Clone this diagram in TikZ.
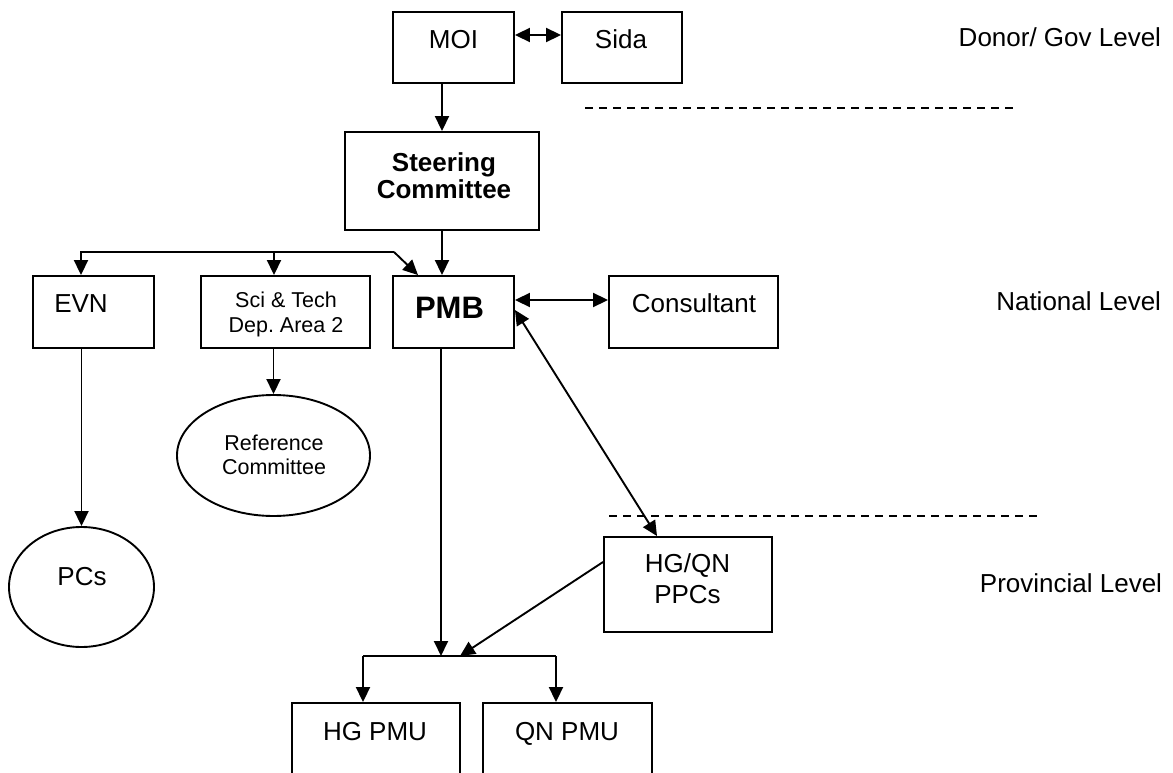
\documentclass[tikz,border=0pt]{standalone}
\usepackage{fontspec}
\setmainfont{Liberation Sans}
\usetikzlibrary{arrows.meta,shapes.geometric}
\frenchspacing
\begin{document}
\begin{tikzpicture}[x=1pt,y=-1pt,
  line width=1.9pt,
  box/.style={draw, rectangle, inner sep=0pt},
  oval/.style={draw, ellipse, inner sep=0pt},
  txt/.style={anchor=base, inner sep=0pt, align=center, font=\fontsize{26}{31}\selectfont},
  small/.style={anchor=base, inner sep=0pt, align=center, font=\fontsize{21.5}{24.5}\selectfont},
  lvl/.style={anchor=base east, inner sep=0pt, font=\fontsize{26}{31}\selectfont},
  arr/.style={-{Triangle[length=15pt,width=14pt]}},
  darr/.style={{Triangle[length=15pt,width=14pt]}-{Triangle[length=15pt,width=14pt]}},
  dline/.style={dash pattern=on 8pt off 6pt, line width=1.6pt}]
\clip (0,0) rectangle (1173,773);
\fill[white] (0,0) rectangle (1173,773);

% boxes
\node[box, minimum width=121pt, minimum height=71pt] (MOI) at (453.5,47.5) {};
\node[box, minimum width=120pt, minimum height=71pt] (Sida) at (622,47.5) {};
\node[box, minimum width=194pt, minimum height=98pt] (SC) at (442,181) {};
\node[box, minimum width=121pt, minimum height=72pt] (EVN) at (93.5,312) {};
\node[box, minimum width=169pt, minimum height=72pt] (Sci) at (285.5,312) {};
\node[box, minimum width=121pt, minimum height=72pt] (PMB) at (453.5,312) {};
\node[box, minimum width=169pt, minimum height=72pt] (Cons) at (693.5,312) {};
\node[box, minimum width=168pt, minimum height=95pt] (HGQN) at (688,584.5) {};
\node[box, minimum width=168pt, minimum height=98pt] (HGPMU) at (376,752) {};
\node[box, minimum width=169pt, minimum height=98pt] (QNPMU) at (567.5,752) {};
\node[oval, minimum width=193pt, minimum height=121pt] (Ref) at (273.5,455.5) {};
\node[oval, minimum width=145pt, minimum height=120pt] (PCs) at (81.5,587) {};

% texts
\node[txt] (tMOI) at (453.5,49) {MOI};
\node[txt] (tSida) at (621,49) {Sida};
\node[txt, font=\fontsize{26}{26.6}\selectfont\bfseries] (tSC) at (444,198) {Steering\\Committee};
\node[txt] (tEVN) at (81,312) {EVN};
\node[small] (tSci) at (286,332) {Sci \& Tech\\Dep. Area 2};
\node[txt, font=\fontsize{31}{36}\selectfont\bfseries] (tPMB) at (449.5,318) {PMB};
\node[txt] (tCons) at (694,312) {Consultant};
\node[small, font=\fontsize{21.5}{24}\selectfont] (tRef) at (274,474) {Reference\\Committee};
\node[txt] (tPCs) at (82,585) {PCs};
\node[txt, font=\fontsize{26}{31}\selectfont] (tHGQN) at (687.5,603) {HG/QN\\PPCs};
\node[txt] (tHGPMU) at (375,740) {HG PMU};
\node[txt] (tQNPMU) at (567,740) {QN PMU};
\node[lvl] (lDonor) at (1162,47) {Donor/ Gov Level};
\node[lvl] (lNat) at (1162,310) {National Level};
\node[lvl] (lProv) at (1163,592) {Provincial Level};

% dashed separators
\coordinate (d1a) at (585,108);
\coordinate (d1b) at (1015,108);
\coordinate (d2a) at (609,516);
\coordinate (d2b) at (1037,516);
\draw[dline] (d1a) -- (d1b);
\draw[dline] (d2a) -- (d2b);

% connectors
\draw[darr] ([yshift=12.5pt]MOI.east) -- ([yshift=12.5pt]Sida.west);
\draw[arr] (MOI.south -| SC.north) -- (SC.north);
\draw[arr] (SC.south) -- (SC.south |- PMB.north);

\coordinate (busL) at (81,252);
\coordinate (busS) at (274,252);
\coordinate (busR) at (394,252);
\draw[arr] (busR) -- (busL) -- (busL |- EVN.north);
\draw[arr] (busS) -- (busS |- Sci.north);
\draw[arr] (busR) -- ([xshift=-35.5pt]PMB.north);
\draw[arr] (Sci.south -| Ref.north) -- (Ref.north);
\draw[arr] (EVN.south -| PCs.north) -- (PCs.north);

\draw[darr] ([yshift=12pt]PMB.east) -- ([yshift=12pt]Cons.west);
\draw[darr] ([yshift=2pt]PMB.east) -- ([xshift=-31pt]HGQN.north);

\coordinate (junc) at (441,656);
\coordinate (jL) at (363,656);
\coordinate (jR) at (556,656);
\coordinate (jA) at (460,656);
\draw[arr] (PMB.south -| junc) -- (junc);
\draw[arr] ([yshift=22.5pt]HGQN.west) -- (jA);
\draw (jL) -- (jR);
\draw[arr] (jL) -- (jL |- HGPMU.north);
\draw[arr] (jR) -- (jR |- QNPMU.north);
\end{tikzpicture}
\end{document}
